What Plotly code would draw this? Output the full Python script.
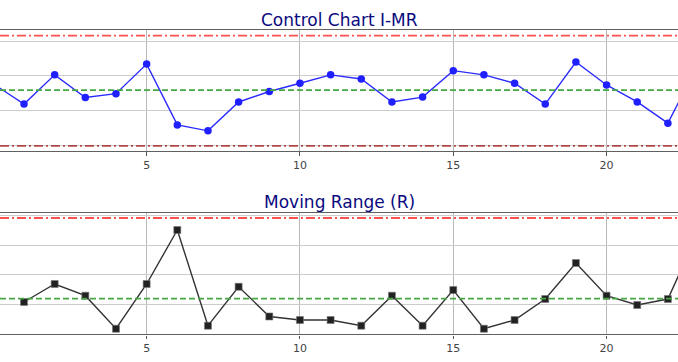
import plotly.graph_objects as go

# ---- data ----
sample_index = list(range(0, 24))
individual_values = [8.77, 8.19, 9.03, 8.38, 8.49, 9.34, 7.59, 7.42, 8.25, 8.55,
                     8.79, 9.03, 8.91, 8.25, 8.39, 9.15, 9.03, 8.79, 8.19, 9.40,
                     8.74, 8.25, 7.64, 9.36]
mr_index = list(range(1, 24))
moving_range_values = [0.544, 0.847, 0.65, 0.094, 0.847, 1.756, 0.145, 0.80, 0.30, 0.24,
                       0.24, 0.145, 0.65, 0.145, 0.746, 0.094, 0.24, 0.594, 1.20, 0.65,
                       0.493, 0.594, 1.73]
i_ucl, i_cl, i_lcl = 10.16, 8.59, 6.99
mr_ucl, mr_cl = 1.958, 0.60
x_ticks = [5, 10, 15, 20]
titles = ["Control Chart I-MR", "Moving Range (R)"]

H = 362.0
def py(p):
    return 1 - p / H

fig = go.Figure()

fig.add_trace(go.Scatter(x=sample_index, y=individual_values, mode="lines+markers",
                         line=dict(color="#2b2bff", width=1.4),
                         marker=dict(color="#2020ff", size=7.5, symbol="circle"),
                         xaxis="x", yaxis="y", showlegend=False))
fig.add_trace(go.Scatter(x=mr_index, y=moving_range_values, mode="lines+markers",
                         line=dict(color="#333333", width=1.4),
                         marker=dict(color="#222222", size=7, symbol="square",
                                     line=dict(color="#777777", width=0.6)),
                         xaxis="x2", yaxis="y2", showlegend=False))

dashdot = "9px,3px,2px,3px"
def hline(yval, yref, color, dash):
    fig.add_shape(type="line", xref=yref.replace("y", "x") + " domain", yref=yref,
                  x0=0, x1=1, y0=yval, y1=yval,
                  line=dict(color=color, width=1.8, dash=dash), layer="above")

hline(i_ucl, "y", "#ff5050", dashdot)
hline(i_cl, "y", "#44a844", "6px,3px")
hline(i_lcl, "y", "#b04848", dashdot)
hline(mr_ucl, "y2", "#ff5050", dashdot)
hline(mr_cl, "y2", "#44a844", "6px,3px")

xcommon = dict(range=[0.217, 22.33], tickvals=x_ticks, showgrid=True,
               gridcolor="#b8b8b8", gridwidth=1, showline=True, mirror=True,
               linecolor="#606060", linewidth=1.4, ticks="outside", ticklen=3.5,
               tickcolor="#555555", zeroline=False,
               tickfont=dict(family="DejaVu Sans", size=11, color="#444444"))
ycommon = dict(showticklabels=False, showgrid=True, gridcolor="#cccccc",
               gridwidth=1.3, zeroline=False, showline=False, ticks="")

fig.update_layout(
    width=678, height=362, margin=dict(l=0, r=0, t=0, b=0),
    paper_bgcolor="white", plot_bgcolor="white",
    xaxis=dict(domain=[0, 1], anchor="y", **xcommon),
    yaxis=dict(domain=[py(151), py(30)], range=[6.84, 10.32], dtick=1, tick0=0,
               anchor="x", **ycommon),
    xaxis2=dict(domain=[0, 1], anchor="y2", **xcommon),
    yaxis2=dict(domain=[py(334.3), py(212.7)], range=[0, 2.047], dtick=0.5, tick0=0,
                anchor="x2", **ycommon),
    annotations=[
        dict(text=titles[0], x=0.5, y=py(19.5), xref="paper", yref="paper",
             xanchor="center", yanchor="middle", showarrow=False,
             font=dict(family="DejaVu Sans", size=17, color="#0a0a80")),
        dict(text=titles[1], x=0.5, y=py(201.5), xref="paper", yref="paper",
             xanchor="center", yanchor="middle", showarrow=False,
             font=dict(family="DejaVu Sans", size=17, color="#0a0a80")),
    ],
)

fig.write_html("out.html", config={"displayModeBar": False},
               post_script="document.body.style.margin='0';"
                           "document.body.style.overflow='hidden';")
